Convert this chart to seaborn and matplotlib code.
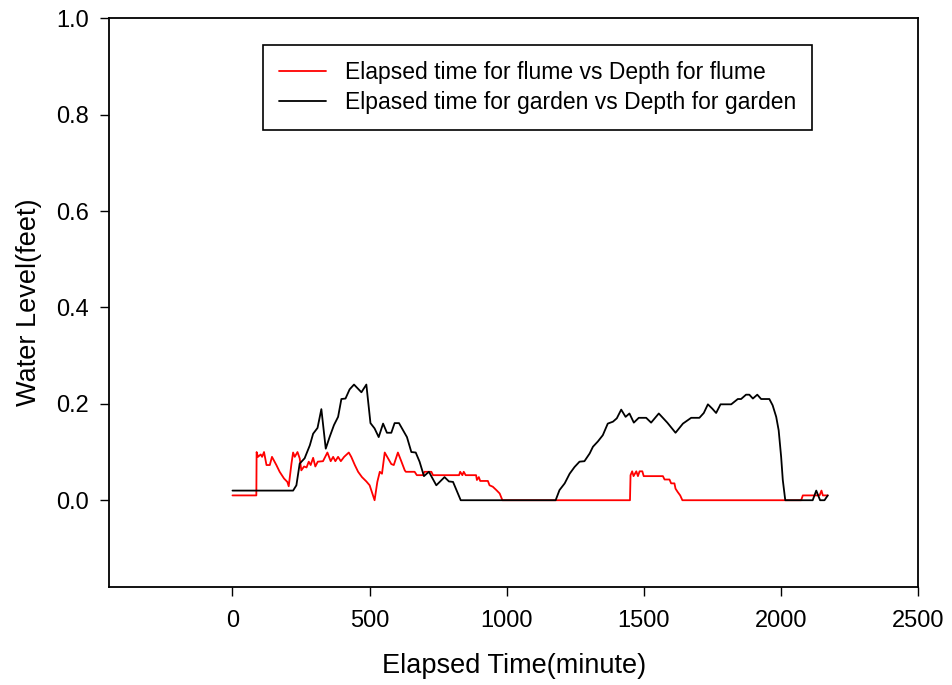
import pandas as pd
import matplotlib.pyplot as plt
import seaborn as sns

# flume series (minutes, feet)
flume_time = [0, 87, 88, 93, 103, 108, 115, 124, 136, 144, 160, 172, 188, 200, 205,
              215, 221, 227, 237, 245, 251, 261, 270, 278, 285, 294, 302, 311, 330,
              346, 358, 367, 375, 385, 395, 407, 424, 433, 446, 458, 472, 488, 500,
              518, 528, 537, 545, 555, 567, 579, 588, 603, 616, 628, 632, 664, 672,
              694, 700, 725, 731, 826, 830, 838, 843, 850, 888, 891, 898, 903, 931,
              937, 949, 962, 974, 984, 1449, 1451, 1457, 1462, 1472, 1478, 1484,
              1494, 1499, 1569, 1575, 1593, 1599, 1611, 1615, 1623, 1632, 1640,
              2073, 2079, 2115, 2140, 2147, 2152, 2170]
flume_depth = [0.01, 0.01, 0.10, 0.09, 0.095, 0.09, 0.10, 0.073, 0.073, 0.09, 0.073,
               0.059, 0.045, 0.038, 0.029, 0.076, 0.099, 0.09, 0.10, 0.087, 0.062,
               0.07, 0.068, 0.08, 0.073, 0.088, 0.07, 0.08, 0.081, 0.099, 0.081,
               0.09, 0.081, 0.09, 0.081, 0.09, 0.099, 0.09, 0.073, 0.059, 0.048,
               0.039, 0.031, 0.0, 0.038, 0.059, 0.055, 0.099, 0.087, 0.075, 0.073,
               0.099, 0.08, 0.062, 0.059, 0.059, 0.052, 0.052, 0.059, 0.059, 0.052,
               0.052, 0.059, 0.052, 0.059, 0.052, 0.052, 0.042, 0.048, 0.04, 0.04,
               0.031, 0.028, 0.021, 0.014, 0.0, 0.0, 0.052, 0.06, 0.05, 0.06, 0.05,
               0.06, 0.06, 0.05, 0.05, 0.043, 0.043, 0.035, 0.035, 0.024, 0.017,
               0.01, 0.0, 0.0, 0.01, 0.01, 0.01, 0.02, 0.01, 0.01]

# garden series (minutes, feet)
garden_time = [0, 221, 233, 245, 263, 282, 294, 310, 324, 340, 354, 370, 385, 397,
               412, 427, 443, 470, 488, 503, 518, 533, 549, 563, 579, 591, 607, 622,
               636, 652, 668, 682, 698, 716, 743, 773, 789, 804, 832, 1178, 1192,
               1211, 1229, 1247, 1265, 1283, 1302, 1314, 1332, 1350, 1368, 1387,
               1401, 1417, 1433, 1447, 1463, 1481, 1508, 1526, 1554, 1585, 1615,
               1642, 1672, 1702, 1718, 1733, 1749, 1763, 1779, 1818, 1842, 1854,
               1872, 1884, 1897, 1913, 1927, 1957, 1969, 1982, 1991, 2000, 2006,
               2015, 2115, 2128, 2142, 2158, 2170]
garden_depth = [0.02, 0.02, 0.031, 0.076, 0.087, 0.114, 0.138, 0.15, 0.189, 0.107,
                0.131, 0.156, 0.173, 0.21, 0.211, 0.23, 0.24, 0.224, 0.24, 0.16,
                0.149, 0.131, 0.159, 0.14, 0.14, 0.16, 0.16, 0.145, 0.131, 0.10,
                0.099, 0.08, 0.05, 0.059, 0.031, 0.048, 0.039, 0.038, 0.0, 0.0,
                0.021, 0.035, 0.055, 0.069, 0.08, 0.081, 0.097, 0.111, 0.122, 0.135,
                0.159, 0.163, 0.17, 0.188, 0.173, 0.18, 0.161, 0.171, 0.171, 0.161,
                0.18, 0.161, 0.14, 0.159, 0.171, 0.171, 0.181, 0.199, 0.19, 0.181,
                0.199, 0.199, 0.21, 0.21, 0.219, 0.219, 0.211, 0.219, 0.21, 0.21,
                0.197, 0.173, 0.145, 0.09, 0.042, 0.0, 0.0, 0.02, 0.0, 0.0, 0.01]

flume_label = "Elapsed time for flume vs Depth for flume"
garden_label = "Elpased time for garden vs Depth for garden"

df = pd.concat([
    pd.DataFrame({"time": flume_time, "depth": flume_depth, "series": flume_label}),
    pd.DataFrame({"time": garden_time, "depth": garden_depth, "series": garden_label}),
], ignore_index=True)

sns.set_style("ticks")
plt.rcParams['font.family'] = ['Liberation Sans', 'DejaVu Sans']
plt.rcParams['text.color'] = 'black'
plt.rcParams['axes.labelcolor'] = 'black'

fig = plt.figure(figsize=(9.53, 6.85), dpi=100)
ax = fig.add_axes([0.1144, 0.1431, 0.8492, 0.8302])

sns.lineplot(data=df, x="time", y="depth", hue="series", units="series",
             estimator=None, sort=False, linewidth=1.3,
             palette={flume_label: "red", garden_label: "black"}, ax=ax)

ax.set_xlim(-450, 2500)
ax.set_ylim(-0.18, 1.0)
ax.set_xticks([0, 500, 1000, 1500, 2000, 2500])
ax.set_yticks([0.0, 0.2, 0.4, 0.6, 0.8, 1.0])
ax.set_yticklabels([f"{v:.1f}" for v in [0.0, 0.2, 0.4, 0.6, 0.8, 1.0]])
ax.tick_params(direction="out", length=6.5, width=1.0, labelsize=17,
               colors="black", labelcolor="black")
ax.tick_params(axis="x", pad=10)
ax.tick_params(axis="y", pad=8)

for s in ax.spines.values():
    s.set_visible(True)
    s.set_linewidth(1.3)
    s.set_color("black")

ax.set_xlabel("Elapsed Time(minute)", fontsize=19.5, labelpad=15, color="black")
ax.set_ylabel("Water Level(feet)", fontsize=19.5, labelpad=10, color="black")

leg = ax.legend(loc="upper left", bbox_to_anchor=(0.190, 0.953), borderaxespad=0,
                fontsize=16.5, frameon=True, fancybox=False, framealpha=1,
                edgecolor="black", handlelength=2.05, handletextpad=0.83,
                borderpad=0.7, labelspacing=0.3)
leg.get_frame().set_linewidth(1.2)
leg.set_title(None)
for t in leg.get_texts():
    t.set_color("black")

fig.savefig("out.png", dpi=100)
